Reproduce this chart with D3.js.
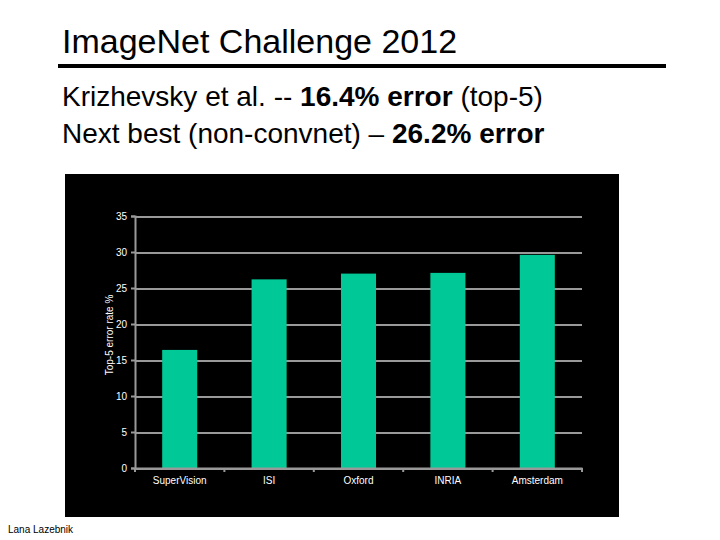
<!DOCTYPE html>
<meta charset="utf-8">
<style>
body { margin: 0; background: white; font-family: "Liberation Sans", Arial, sans-serif; }
.grid line { stroke: #999; stroke-width: 2px; shape-rendering: crispEdges; }
.grid path { stroke-width: 0; }
.tick text { fill: white; font-family: "Liberation Sans", Arial, sans-serif; font-size: 10px; }
</style>
<body>
<script src="https://d3js.org/d3.v7.min.js"></script>
<script>

// chart data
var teams = ["SuperVision", "ISI", "Oxford", "INRIA", "Amsterdam"];
var errorRates = [16.4, 26.2, 27.0, 27.1, 29.6];
var yTicks = [0, 5, 10, 15, 20, 25, 30, 35];

var data = teams.map(function(t, i) { return {team: t, err: errorRates[i]}; });

var svg = d3.select("body").append("svg")
    .attr("width", 720)
    .attr("height", 540);

// slide heading
svg.append("text")
    .attr("x", 62).attr("y", 53)
    .style("font-size", "34px")
    .text("ImageNet Challenge 2012");

svg.append("rect")
    .attr("x", 58).attr("y", 64)
    .attr("width", 608).attr("height", 4)
    .attr("fill", "black");

var line1 = svg.append("text").attr("x", 62).attr("y", 106).style("font-size", "28px");
line1.append("tspan").text("Krizhevsky et al. -- ");
line1.append("tspan").style("font-weight", "bold").text("16.4% error");
line1.append("tspan").text(" (top-5)");

var line2 = svg.append("text").attr("x", 62).attr("y", 143).style("font-size", "28px");
line2.append("tspan").text("Next best (non-convnet) \u2013 ");
line2.append("tspan").style("font-weight", "bold").text("26.2% error");

// black chart panel
svg.append("rect")
    .attr("x", 65).attr("y", 174)
    .attr("width", 554).attr("height", 343)
    .attr("fill", "black");

var margin = {left: 135, top: 216},
    width = 447,
    height = 252;

var g = svg.append("g")
    .attr("transform", "translate(" + margin.left + "," + margin.top + ")");

var x = d3.scaleBand().domain(teams).range([0, width]).paddingInner(0.608).paddingOuter(0.304);
var y = d3.scaleLinear().domain([0, 35]).range([height, 0]);

// gridlines
g.append("g")
    .attr("class", "grid")
    .call(d3.axisLeft(y).tickValues(yTicks).tickSize(-width).tickFormat(""));

// bars
g.selectAll(".bar")
    .data(data)
  .enter().append("rect")
    .attr("class", "bar")
    .attr("x", function(d) { return x(d.team); })
    .attr("y", function(d) { return y(d.err); })
    .attr("width", x.bandwidth())
    .attr("height", function(d) { return height - y(d.err); })
    .attr("fill", "#00c896");

// y axis
var yAxis = g.append("g")
    .call(d3.axisLeft(y).tickValues(yTicks).tickSize(4).tickPadding(4));
yAxis.selectAll("line").attr("stroke", "#999").attr("stroke-width", 2);
yAxis.select(".domain").attr("stroke", "#999").attr("stroke-width", 2);

// x axis with ticks at the band boundaries
var xAxis = g.append("g")
    .attr("transform", "translate(0," + height + ")")
    .call(d3.axisBottom(x).tickSize(0).tickPadding(9));
xAxis.select(".domain").attr("stroke", "#999").attr("stroke-width", 2);

var step = width / teams.length;
xAxis.selectAll(".sep")
    .data(d3.range(teams.length + 1))
  .enter().append("line")
    .attr("x1", function(i) { return i * step; })
    .attr("x2", function(i) { return i * step; })
    .attr("y1", 0).attr("y2", 4)
    .attr("stroke", "#999").attr("stroke-width", 2);

// y label
g.append("text")
    .attr("transform", "rotate(-90)")
    .attr("x", -119)
    .attr("y", -22)
    .attr("fill", "white")
    .style("font-size", "10px")
    .style("text-anchor", "middle")
    .text("Top-5 error rate %");

// footer
svg.append("text")
    .attr("x", 8).attr("y", 533)
    .style("font-size", "10px")
    .text("Lana Lazebnik");

</script>
</body>
